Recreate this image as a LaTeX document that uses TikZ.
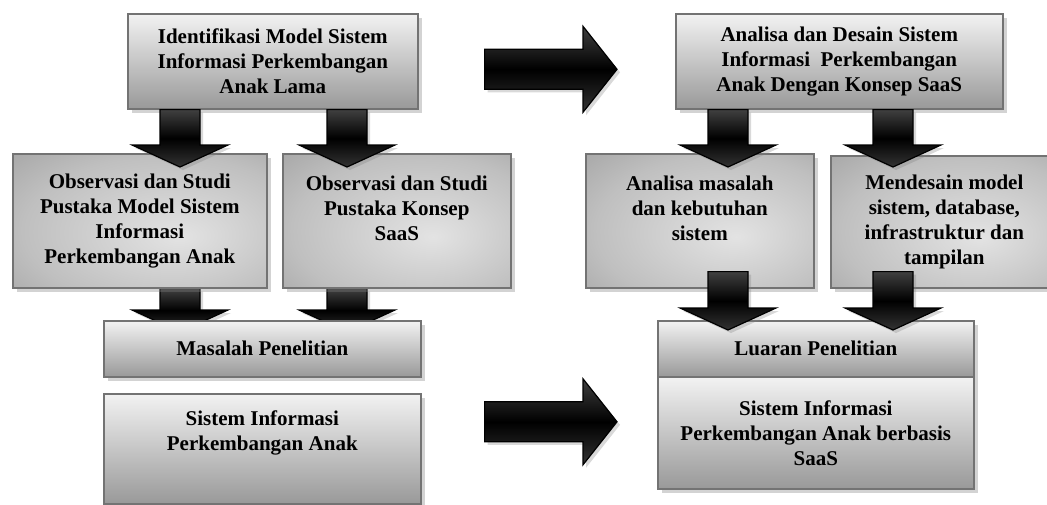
\documentclass[tikz,border=0pt]{standalone}
\usepackage{fontspec}
\setmainfont{Liberation Serif}
\usetikzlibrary{calc,shadows,backgrounds}
\pgfdeclareradialshading{obsshade}{\pgfpoint{8bp}{-6bp}}{color(0bp)=(gray!22); color(28bp)=(gray!50); color(55bp)=(gray!90); color(75bp)=(black!55)}
\tikzset{box/.style={draw=black!55,line width=0.8pt,anchor=north west,align=center,inner sep=0pt,
    font=\bfseries\fontsize{10.5}{12.5}\selectfont,
    drop shadow={shadow xshift=2pt,shadow yshift=-2pt,opacity=.35}},
  litebox/.style={box,top color=gray!10,bottom color=gray!80},
  darkbox/.style={box,shading=obsshade},
  blk/.style={draw=black,line width=0.6pt,top color=black!75,bottom color=black!80,middle color=black,
    drop shadow={shadow xshift=1.5pt,shadow yshift=-1.5pt,opacity=.3}}}
% block arrows: start, tip
\newcommand{\blkdown}[2]{\draw[blk] ($#1+(-20,0)$) -- ($#2+(-20,-22)$) -- ($#2+(-48,-22)$) -- #2 -- ($#2+(48,-22)$) -- ($#2+(20,-22)$) -- ($#1+(20,0)$) -- cycle;}
\newcommand{\blkright}[2]{\draw[blk] ($#1+(0,-20)$) -- ($#2+(-34,-20)$) -- ($#2+(-34,-43)$) -- #2 -- ($#2+(-34,43)$) -- ($#2+(-34,20)$) -- ($#1+(0,20)$) -- cycle;}

\begin{document}
\begin{tikzpicture}[x=0.5pt,y=-0.5pt]
\useasboundingbox (0,0) rectangle (1047,504);
\clip (0,0) rectangle (1047,504);
% kiri
\node[litebox,minimum width=145pt,minimum height=47.5pt] (idm) at (127,13) {Identifikasi Model Sistem\\Informasi Perkembangan\\Anak Lama};
\node[darkbox,minimum width=127pt,minimum height=67pt] (obs1) at (12,153) {Observasi dan Studi\\Pustaka Model Sistem\\Informasi\\Perkembangan Anak};
\node[darkbox,minimum width=114pt,minimum height=67pt] (obs2) at (282,153) {Observasi dan Studi\\Pustaka Konsep\\SaaS\\\mbox{}};
\coordinate (a1s) at ($(idm.south west)+(53,0)$);\coordinate (a1e) at ($(a1s |- obs1.north)+(0,14)$);
\coordinate (a2s) at ($(idm.south west)+(220,0)$);\coordinate (a2e) at ($(a2s |- obs2.north)+(0,14)$);
\blkdown{(a1s)}{(a1e)}\blkdown{(a2s)}{(a2e)}
\node[litebox,minimum width=158.5pt,minimum height=28pt] (mas) at (103,320) {Masalah Penelitian};
\node[litebox,minimum width=158.5pt,minimum height=55pt] (sik) at (103,393) {Sistem Informasi\\Perkembangan Anak\\[5.5pt]\mbox{}};
\coordinate (a3s) at ($(obs1.south west)+(168,0)$);\coordinate (a3e) at ($(a3s |- mas.north)+(0,12)$);
\coordinate (a4s) at ($(obs2.south west)+(65,0)$);\coordinate (a4e) at ($(a4s |- mas.north)+(0,12)$);
\begin{scope}[on background layer]
\blkdown{(a3s)}{(a3e)}\blkdown{(a4s)}{(a4e)}
\end{scope}
% kanan
\node[litebox,minimum width=163.5pt,minimum height=47.5pt] (ads) at (675,13) {Analisa dan Desain Sistem\\Informasi\ \ Perkembangan\\Anak Dengan Konsep SaaS};
\node[darkbox,minimum width=114pt,minimum height=67pt] (anm) at (585,153) {Analisa masalah\\dan kebutuhan\\sistem\\\mbox{}};
\node[darkbox,minimum width=113.5pt,minimum height=66pt] (mds) at (830,155) {Mendesain model\\sistem, database,\\infrastruktur dan\\tampilan};
\coordinate (b1s) at ($(ads.south west)+(53,0)$);\coordinate (b1e) at ($(b1s |- anm.north)+(0,14)$);
\coordinate (b2s) at ($(ads.south west)+(218,0)$);\coordinate (b2e) at ($(b2s |- anm.north)+(0,14)$);
\blkdown{(b1s)}{(b1e)}\blkdown{(b2s)}{(b2e)}
\node[litebox,minimum width=158pt,minimum height=28pt] (lua) at (657,320) {Luaran Penelitian};
\node[litebox,minimum width=158pt,minimum height=56pt] (sia) at (657,376) {Sistem Informasi\\Perkembangan Anak berbasis\\SaaS};
\coordinate (b3s) at ($(anm.south west)+(143,-17)$);\coordinate (b3e) at ($(b3s |- lua.north)+(0,10)$);
\coordinate (b4s) at ($(mds.south west)+(63,-17)$);\coordinate (b4e) at ($(b4s |- lua.north)+(0,10)$);
\blkdown{(b3s)}{(b3e)}\blkdown{(b4s)}{(b4e)}
% panah tengah
\coordinate (k1s) at ($(idm.east)+(66,8)$);\coordinate (k1e) at ($(ads.west)+(-58,8)$);
\coordinate (k2s) at ($(sik.east)+(63,-27)$);\coordinate (k2e) at ($(sia.west)+(-40,-11)$);
\blkright{(k1s)}{(k1e)}\blkright{(k2s)}{(k2e)}
\end{tikzpicture}
\end{document}
